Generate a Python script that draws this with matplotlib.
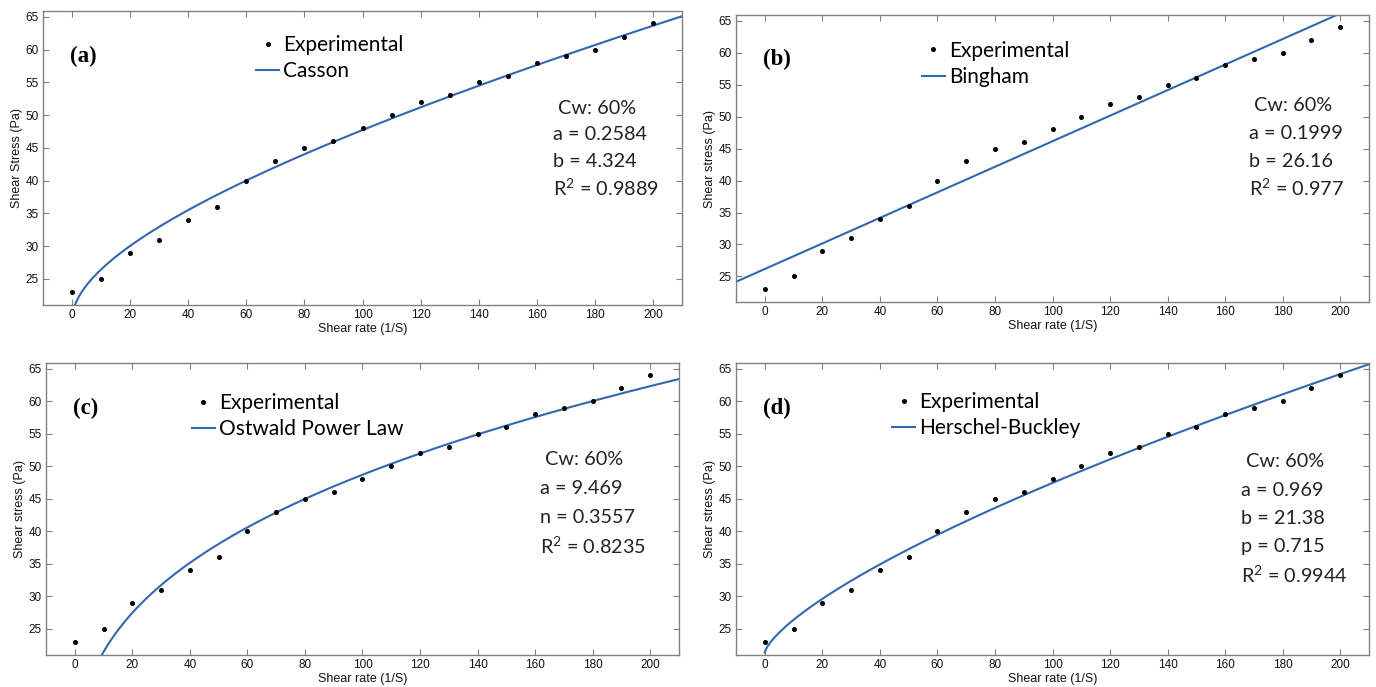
import numpy as np
import matplotlib
matplotlib.use('Agg')
import matplotlib.pyplot as plt

plt.rcParams['font.family'] = ['Liberation Sans', 'DejaVu Sans']
plt.rcParams['mathtext.fontset'] = 'custom'
plt.rcParams['mathtext.rm'] = 'Lato'
plt.rcParams['mathtext.it'] = 'Lato:italic'

# experimental data (same in all four panels)
shear_rate = [0, 10, 20, 30, 40, 50, 60, 70, 80, 90, 100,
              110, 120, 130, 140, 150, 160, 170, 180, 190, 200]
shear_stress = [23, 25, 29, 31, 34, 36, 40, 43, 45, 46, 48,
                50, 52, 53, 55, 56, 58, 59, 60, 62, 64]

# fitted model parameters, as printed on the figure
casson = {'a': 0.2584, 'b': 4.324, 'r2': 0.9889}
bingham = {'a': 0.1999, 'b': 26.16, 'r2': 0.977}
ostwald = {'a': 9.469, 'n': 0.3557, 'r2': 0.8235}
herschel = {'a': 0.969, 'b': 21.38, 'p': 0.715, 'r2': 0.9944}

panel_tags = ['(a)', '(b)', '(c)', '(d)']
model_names = ['Casson', 'Bingham', 'Ostwald Power Law', 'Herschel-Buckley']
ylabels = ['Shear Stress (Pa)', 'Shear stress (Pa)', 'Shear stress (Pa)', 'Shear stress (Pa)']
notes = [
    ['Cw: 60%', 'a = 0.2584', 'b = 4.324', r'R$^\mathrm{2}$ = 0.9889'],
    ['Cw: 60%', 'a = 0.1999', 'b = 26.16', r'R$^\mathrm{2}$ = 0.977'],
    ['Cw: 60%', 'a = 9.469', 'n = 0.3557', r'R$^\mathrm{2}$ = 0.8235'],
    ['Cw: 60%', 'a = 0.969', 'b = 21.38', 'p = 0.715', r'R$^\mathrm{2}$ = 0.9944'],
]


def model_curve(i, g):
    if i == 0:
        return (casson['a'] * np.sqrt(g) + casson['b']) ** 2
    if i == 1:
        return bingham['b'] + bingham['a'] * g
    if i == 2:
        return ostwald['a'] * g ** ostwald['n']
    return herschel['b'] + herschel['a'] * g ** herschel['p']


W, H = 1376, 687
fig = plt.figure(figsize=(W / 100, H / 100), dpi=100)

# axes boxes in pixels: left, top, right, bottom
boxes = [(43, 11, 682, 305), (736, 15, 1369, 302),
         (46, 363, 679, 655), (736, 363, 1369, 655)]
legend_xy = [(0.3175, 0.953), (0.277, 0.947), (0.214, 0.933), (0.2305, 0.936)]
note_x = [0.798, 0.81, 0.78, 0.798]
note_y0 = [0.67, 0.683, 0.668, 0.661]
note_dy = [0.091, 0.096, 0.099, 0.097]

blue = '#3566b0'
edge = '#808080'

for i in range(4):
    l, t, r, b = boxes[i]
    ax = fig.add_axes([l / W, 1 - b / H, (r - l) / W, (b - t) / H])
    ax.plot(shear_rate, shear_stress, 'o', color='black', ms=2.6,
            label='Experimental', zorder=3)
    g = np.linspace(-10 if i == 1 else 0, 210, 600)
    ax.plot(g, model_curve(i, g), color=blue, lw=1.5, label=model_names[i])

    ax.set_xlim(-10, 210)
    ax.set_ylim(21, 65.9)
    ax.set_xticks(range(0, 201, 20))
    ax.set_yticks(range(25, 66, 5))
    ax.tick_params(direction='in', length=4, width=0.8, color=edge,
                   top=True, right=True, labelsize=8.5, labelcolor='#111111', pad=3)
    for s in ax.spines.values():
        s.set_color(edge)
        s.set_linewidth(1.0)
    ax.set_xlabel('Shear rate (1/S)', fontsize=9, labelpad=1, color='#111111')
    ax.set_ylabel(ylabels[i], fontsize=9, labelpad=2, color='#111111')

    ax.text(0.042, 0.845, panel_tags[i], transform=ax.transAxes,
            family='Liberation Serif', weight='bold', fontsize=16.5, va='center')

    ax.legend(loc='upper left', bbox_to_anchor=legend_xy[i], frameon=False,
              prop={'family': 'Lato', 'size': 15}, handlelength=1.1,
              handletextpad=0.2, borderpad=0, labelspacing=0.3)

    for k, line in enumerate(notes[i]):
        ax.text(note_x[i] + (0.008 if k == 0 else 0), note_y0[i] - k * note_dy[i], line,
                transform=ax.transAxes, family='Lato', fontsize=14.3,
                va='center', ha='left', color='#222222')

fig.savefig('out.png', dpi=100)
